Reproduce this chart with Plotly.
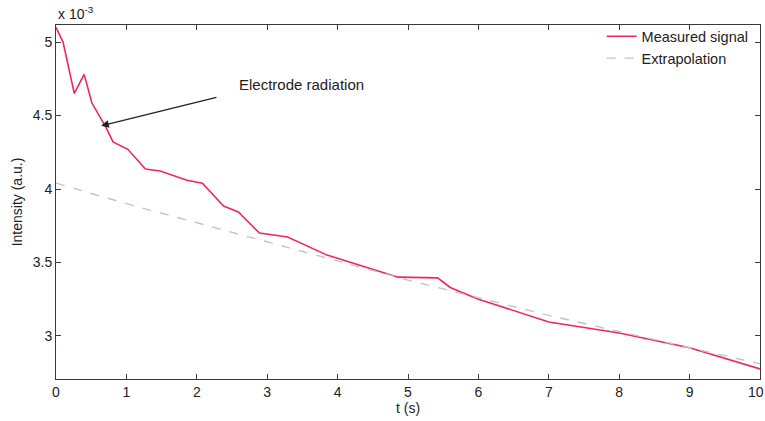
import plotly.graph_objects as go

# Values in units of 1e-3 (a.u.)
t_meas = [0.0, 0.1, 0.26, 0.40, 0.51, 0.63, 0.71, 0.81, 1.02, 1.27, 1.48, 1.86, 2.08, 2.38,
          2.59, 2.89, 3.29, 3.85, 4.86, 5.42, 5.60, 6.0, 7.0, 8.0, 9.0, 10.0]
v_meas = [5.10, 5.00, 4.65, 4.78, 4.585, 4.48, 4.42, 4.32, 4.27, 4.136, 4.122, 4.06, 4.04, 3.884,
          3.844, 3.70, 3.673, 3.55, 3.40, 3.395, 3.33, 3.25, 3.095, 3.02, 2.92, 2.776]

t_extra = [0, 1, 2, 3, 4, 5, 6, 7, 8, 9, 10]
v_extra = [4.04, 3.90, 3.77, 3.64, 3.51, 3.38, 3.26, 3.14, 3.03, 2.92, 2.81]

x_ticks = [0, 1, 2, 3, 4, 5, 6, 7, 8, 9, 10]
y_ticks = [3, 3.5, 4, 4.5, 5]
y_ticklabels = ["3", "3.5", "4", "4.5", "5"]

FONT = "Liberation Sans, Arial, sans-serif"
AX = "#3a3a3a"

fig = go.Figure()
fig.add_trace(go.Scatter(x=t_meas, y=v_meas, mode="lines", name="Measured signal",
                         line=dict(color="#f0285a", width=1.6)))
fig.add_trace(go.Scatter(x=t_extra, y=v_extra, mode="lines", name="Extrapolation",
                         line=dict(color="#c4c4c4", width=1.4, dash="dash")))

fig.add_annotation(x=0.64, y=4.43, ax=2.30, ay=4.626, xref="x", yref="y", axref="x", ayref="y",
                   text="", showarrow=True, arrowhead=2, arrowsize=1.2, arrowwidth=1.3,
                   arrowcolor="#222")
fig.add_annotation(x=2.57, y=4.71, xref="x", yref="y", text="Electrode radiation",
                   showarrow=False, xanchor="left", yanchor="middle",
                   font=dict(family=FONT, size=15, color="#222"))
fig.add_annotation(x=0, y=1, xref="paper", yref="paper", text="x 10<sup>-3</sup>",
                   showarrow=False, xanchor="left", yanchor="bottom", yshift=1,
                   font=dict(family=FONT, size=14, color="#222"))
# last x tick label, nudged so it stays inside the window
fig.add_annotation(x=10, y=0, xref="x", yref="paper", text=str(x_ticks[-1]),
                   showarrow=False, xanchor="center", yanchor="middle", yshift=-13, xshift=-4,
                   font=dict(family=FONT, size=14, color="#222"))

fig.update_layout(
    width=765, height=421,
    margin=dict(l=56, r=5, t=25, b=42),
    paper_bgcolor="white", plot_bgcolor="white",
    font=dict(family=FONT, size=14, color="#222"),
    showlegend=True,
    legend=dict(x=0.775, y=1.013, xanchor="left", yanchor="top", bgcolor="rgba(0,0,0,0)",
                font=dict(family=FONT, size=14.5, color="#222"), tracegroupgap=0,
                itemwidth=30),
    xaxis=dict(range=[0, 10], tickvals=x_ticks[:-1], ticks="inside", ticklen=5, tickcolor=AX,
               showline=True, linecolor=AX, linewidth=1, mirror="ticks", showgrid=False,
               zeroline=False, title=dict(text="t (s)", standoff=2,
                                          font=dict(family=FONT, size=14))),
    yaxis=dict(range=[2.707, 5.116], tickvals=y_ticks, ticktext=y_ticklabels, ticks="inside",
               ticklen=5, tickcolor=AX, showline=True, linecolor=AX, linewidth=1, mirror="ticks",
               showgrid=False, zeroline=False,
               title=dict(text="Intensity (a.u.)", standoff=6, font=dict(family=FONT, size=14))),
)

fig.write_html("out.html")
